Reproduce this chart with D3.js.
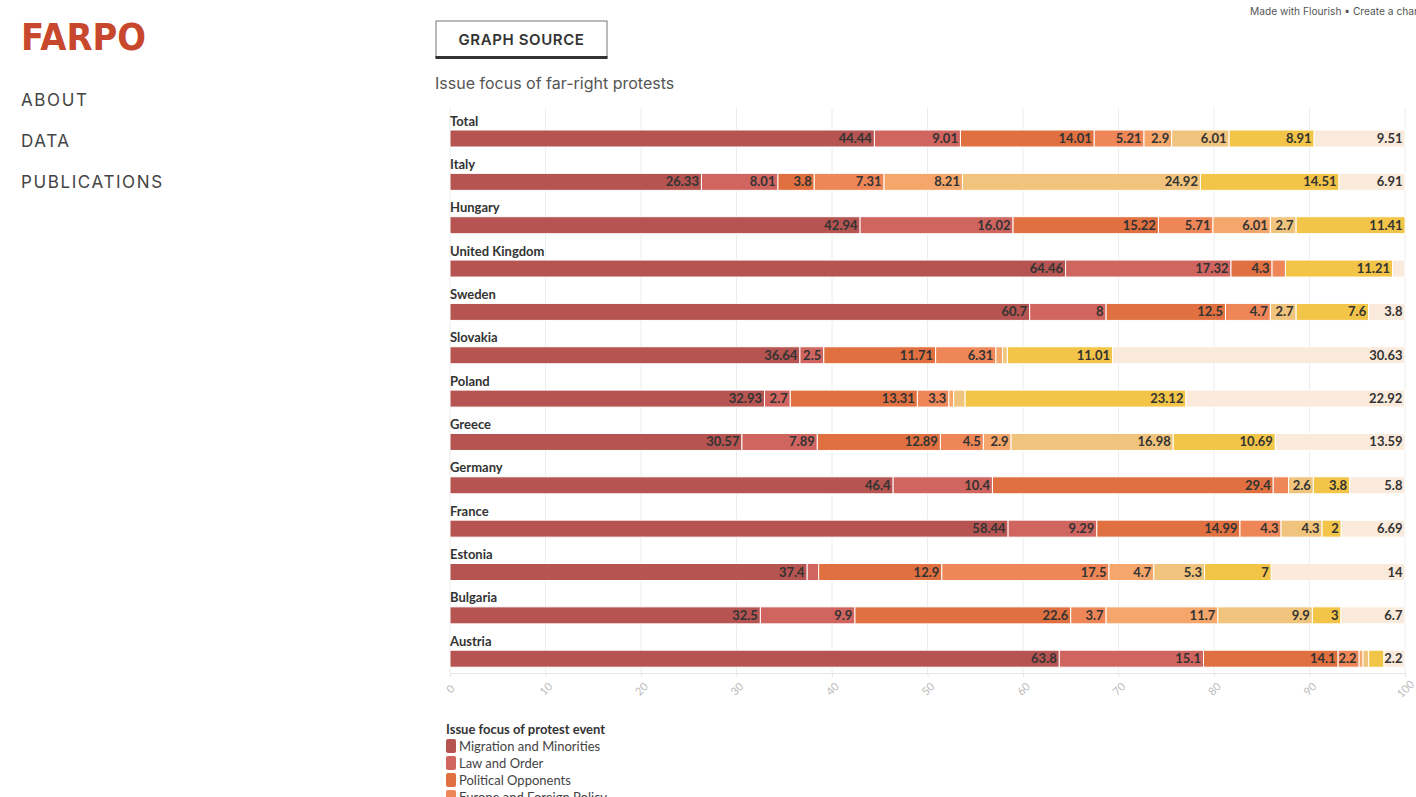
<!DOCTYPE html>
<html>
<head>
<meta charset="utf-8">
<script src="https://cdn.jsdelivr.net/npm/d3@7"></script>
<style>
  body { margin: 0; background: #fff; }
  svg { display: block; }
</style>
</head>
<body>
<svg id="bg" width="1416" height="797"></svg>
<script>
// rows, top to bottom
var countries = ['Total', 'Italy', 'Hungary', 'United Kingdom', 'Sweden', 'Slovakia', 'Poland',
  'Greece', 'Germany', 'France', 'Estonia', 'Bulgaria', 'Austria'];

var categories = ['Migration and Minorities', 'Law and Order', 'Political Opponents',
  'Europe and Foreign Policy', 'Socio-Economic Issues', 'Health and Covid-19',
  'Culture and Identity', 'Other'];

var colores = ['#b55450', '#d0645f', '#e0703f', '#ef8657', '#f4a66b', '#f0c47c', '#f2c447', '#faeadb'];

// one array per category, in country order
var migration  = [44.44, 26.33, 42.94, 64.46, 60.7, 36.64, 32.93, 30.57, 46.4, 58.44, 37.4, 32.5, 63.8];
var lawOrder   = [9.01, 8.01, 16.02, 17.32, 8, 2.5, 2.7, 7.89, 10.4, 9.29, 1.2, 9.9, 15.1];
var opponents  = [14.01, 3.8, 15.22, 4.3, 12.5, 11.71, 13.31, 12.89, 29.4, 14.99, 12.9, 22.6, 14.1];
var europe     = [5.21, 7.31, 5.71, 1.4, 4.7, 6.31, 3.3, 4.5, 1.6, 4.3, 17.5, 3.7, 2.2];
var economy    = [2.9, 8.21, 6.01, 0, 0, 0.7, 0.5, 2.9, 0, 0, 4.7, 11.7, 0.4];
var health     = [6.01, 24.92, 2.7, 0, 2.7, 0.5, 1.2, 16.98, 2.6, 4.3, 5.3, 9.9, 0.6];
var culture    = [8.91, 14.51, 11.41, 11.21, 7.6, 11.01, 23.12, 10.69, 3.8, 2, 7, 3, 1.6];
var other      = [9.51, 6.91, 0, 1.3, 3.8, 30.63, 22.92, 13.59, 5.8, 6.69, 14, 6.7, 2.2];

var series = [migration, lawOrder, opponents, europe, economy, health, culture, other];
var xTicks = [0, 10, 20, 30, 40, 50, 60, 70, 80, 90, 100];

var svg = d3.select('#bg');

// ---- left nav ----
svg.append('text')
  .text('FARPO')
  .attr('x', 21).attr('y', 50)
  .attr('font-family', 'DejaVu Sans').attr('font-weight', 'bold')
  .attr('font-size', 38)
  .attr('textLength', 125).attr('lengthAdjust', 'spacingAndGlyphs')
  .attr('fill', '#c8482d');

var nav = ['ABOUT', 'DATA', 'PUBLICATIONS'];
svg.selectAll('.nav')
  .data(nav)
  .join('text')
  .attr('class', 'nav')
  .text(d => d)
  .attr('x', 21)
  .attr('y', (d, i) => 106 + i * 41)
  .attr('font-family', 'Inter').attr('font-size', 17)
  .attr('letter-spacing', 1.6)
  .attr('fill', '#444');

// ---- header ----
svg.append('rect')
  .attr('x', 436).attr('y', 21).attr('width', 171).attr('height', 36)
  .attr('fill', '#fff').attr('stroke', '#777').attr('stroke-width', 1);
svg.append('rect')
  .attr('x', 435.5).attr('y', 56).attr('width', 172).attr('height', 3)
  .attr('fill', '#333');
svg.append('text')
  .text('GRAPH SOURCE')
  .attr('x', 521.5).attr('y', 44.5)
  .attr('text-anchor', 'middle')
  .attr('font-family', 'Inter').attr('font-weight', 600).attr('font-size', 15)
  .attr('letter-spacing', 0.6)
  .attr('fill', '#333');

svg.append('text')
  .text('Issue focus of far-right protests')
  .attr('x', 435).attr('y', 89)
  .attr('font-family', 'Inter').attr('font-size', 16)
  .attr('fill', '#555');

svg.append('text')
  .text('Made with Flourish \u2022 Create a chart')
  .attr('x', 1250).attr('y', 15)
  .attr('font-family', 'Inter').attr('font-size', 10.2)
  .attr('fill', '#555');

// ---- chart ----
var xScale = d3.scaleLinear().domain([0, 100]).range([450, 1405]);
var yScale = d3.scaleBand().domain(countries).range([113, 113 + 43.35 * countries.length]);

var gGraf = svg.append('g').attr('class', 'gGraf');

// gridlines
gGraf.selectAll('.grid')
  .data(xTicks)
  .join('line')
  .attr('class', 'grid')
  .attr('x1', d => xScale(d)).attr('x2', d => xScale(d))
  .attr('y1', 108).attr('y2', 673)
  .attr('stroke', '#ececec');

// axis
var axis = gGraf.append('g')
  .attr('transform', 'translate(0,673)')
  .call(d3.axisBottom(xScale).tickValues(xTicks).tickSize(4).tickPadding(6));
axis.select('.domain').attr('stroke', '#e6e6e6');
axis.selectAll('.tick line').attr('stroke', '#e6e6e6');
axis.selectAll('.tick text')
  .attr('fill', '#bbb')
  .attr('font-family', 'Lato').attr('font-size', 11)
  .attr('text-anchor', 'middle')
  .attr('x', 0).attr('y', 0)
  .attr('dy', '0.35em')
  .attr('transform', 'translate(0,16) rotate(-45)');

// stacked rows
var tabla = countries.map((c, i) => {
  var row = { country: c };
  categories.forEach((cat, j) => { row[cat] = series[j][i]; });
  return row;
});
var stacked = d3.stack().keys(categories)(tabla);

var filas = gGraf.selectAll('.fila')
  .data(countries)
  .join('g')
  .attr('class', 'fila')
  .attr('transform', d => 'translate(0,' + yScale(d) + ')');

filas.append('text')
  .text(d => d)
  .attr('x', 450).attr('y', 12.5)
  .attr('font-family', 'Lato').attr('font-weight', 'bold').attr('font-size', 13)
  .attr('fill', '#333');

stacked.forEach((capa, j) => {
  var segs = gGraf.selectAll('.seg' + j)
    .data(capa.filter(d => d[1] - d[0] > 0))
    .join('g')
    .attr('class', 'seg' + j)
    .attr('transform', d => 'translate(0,' + (yScale(d.data.country) + 17) + ')');

  segs.append('rect')
    .attr('x', d => xScale(d[0]))
    .attr('y', 0)
    .attr('width', d => xScale(d[1]) - xScale(d[0]))
    .attr('height', 17)
    .attr('fill', colores[j])
    .attr('stroke', '#fff')
    .attr('stroke-width', 1);

  segs.append('text')
    .text(d => d.data[categories[j]])
    .attr('x', d => xScale(d[1]) - 2.5)
    .attr('y', 13)
    .attr('text-anchor', 'end')
    .attr('font-family', 'Lato').attr('font-weight', 'bold').attr('font-size', 13)
    .attr('fill', '#333')
    .each(function(d) {
      var ancho = xScale(d[1]) - xScale(d[0]);
      if (this.getComputedTextLength() + 2 > ancho) d3.select(this).remove();
    });
});

// ---- legend ----
var leyenda = svg.append('g').attr('transform', 'translate(446,0)');
leyenda.append('text')
  .text('Issue focus of protest event')
  .attr('x', 0).attr('y', 733.5)
  .attr('font-family', 'Lato').attr('font-weight', 'bold').attr('font-size', 13)
  .attr('fill', '#333');

var items = leyenda.selectAll('.item')
  .data(categories)
  .join('g')
  .attr('class', 'item')
  .attr('transform', (d, i) => 'translate(0,' + (739 + i * 17) + ')');
items.append('rect')
  .attr('width', 10).attr('height', 14).attr('rx', 2)
  .attr('fill', (d, i) => colores[i]);
items.append('text')
  .text(d => d)
  .attr('x', 13).attr('y', 11.5)
  .attr('font-family', 'Lato').attr('font-size', 13)
  .attr('fill', '#444');
</script>
</body>
</html>
